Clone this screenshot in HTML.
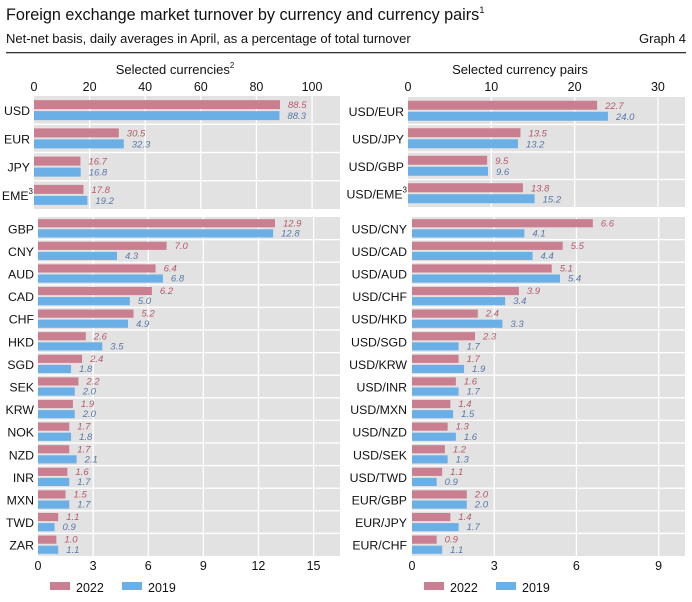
<!DOCTYPE html>
<html><head><meta charset="utf-8"><style>
body{margin:0;background:#fff;}
svg{display:block;font-family:"Liberation Sans",sans-serif;}
</style></head><body>
<svg id="s" width="692" height="602" xmlns="http://www.w3.org/2000/svg"></svg>
<script>
const s=document.getElementById('s');let h='';
const P='#c97f8f',B='#6aafe6',BG='#e2e2e2';
h+=`<text x="6" y="20" font-size="16.2" fill="#111">Foreign exchange market turnover by currency and currency pairs<tspan font-size="9.5" dy="-7">1</tspan></text>`;
h+=`<text x="6" y="43" font-size="13" fill="#111">Net-net basis, daily averages in April, as a percentage of total turnover</text>`;
h+=`<text x="686" y="43" font-size="13" fill="#111" text-anchor="end">Graph 4</text>`;
h+=`<rect x="6" y="52" width="680" height="1.3" fill="#333"/>`;
h+=`<text x="175" y="74" font-size="13" text-anchor="middle" fill="#111">Selected currencies<tspan font-size="8" dy="-6">2</tspan></text>`;
h+=`<text x="520" y="74" font-size="13" text-anchor="middle" fill="#111">Selected currency pairs</text>`;
function panel(x0,xr,y0,y1,scale,ticks,rows,tickY,lblX){
  const n=rows.length,rh=(y1-y0)/n,left=x0;
  h+=`<rect x="${left}" y="${y0}" width="${xr-left}" height="${y1-y0}" fill="${BG}"/>`;
  ticks.forEach(t=>{const x=x0+t*scale;if(t>0)h+=`<rect x="${x-0.6}" y="${y0}" width="1.3" height="${y1-y0}" fill="#fff"/>`;
    h+=`<text x="${x}" y="${tickY}" font-size="12.5" text-anchor="middle" fill="#111">${t}</text>`;});
  rows.forEach((r,i)=>{const ry=y0+i*rh;if(i>0)h+=`<rect x="${left}" y="${ry-0.7}" width="${xr-left}" height="1.4" fill="#fff"/>`;
    const bh=Math.min(9,rh*0.36),g=(rh-2*bh-2)/2;
    const w1=r[1]*scale,w2=r[2]*scale;
    h+=`<rect x="${x0}" y="${ry+g}" width="${w1}" height="${bh}" fill="${P}"/>`;
    h+=`<rect x="${x0}" y="${ry+g+bh+2}" width="${w2}" height="${bh}" fill="${B}"/>`;
    h+=`<text x="${x0+w1+8}" y="${ry+g+bh-1}" font-size="9.5" font-style="italic" fill="#b55868">${r[1].toFixed(1)}</text>`;
    h+=`<text x="${x0+w2+8}" y="${ry+g+2*bh+1}" font-size="9.5" font-style="italic" fill="#5577aa">${r[2].toFixed(1)}</text>`;
    let lab=r[0],sup='',lx=lblX;if(lab.endsWith('^')){lab=lab.slice(0,-1);sup='<tspan font-size="8" dy="-6">3</tspan>';lx+=3;}
    h+=`<text x="${lx}" y="${ry+rh/2+5}" font-size="12.3" text-anchor="end" fill="#111">${lab}${sup}</text>`;});
}
panel(34,340,96,209,2.78,[0,20,40,60,80,100],[['USD',88.5,88.3],['EUR',30.5,32.3],['JPY',16.7,16.8],['EME^',17.8,19.2]],91,30);
panel(38,340,217,556,18.37,[0,3,6,9,12,15],[['GBP',12.9,12.8],['CNY',7.0,4.3],['AUD',6.4,6.8],['CAD',6.2,5.0],['CHF',5.2,4.9],['HKD',2.6,3.5],['SGD',2.4,1.8],['SEK',2.2,2.0],['KRW',1.9,2.0],['NOK',1.7,1.8],['NZD',1.7,2.1],['INR',1.6,1.7],['MXN',1.5,1.7],['TWD',1.1,0.9],['ZAR',1.0,1.1]],570,34);
panel(408,685,97,207,8.33,[0,10,20,30],[['USD/EUR',22.7,24.0],['USD/JPY',13.5,13.2],['USD/GBP',9.5,9.6],['USD/EME^',13.8,15.2]],91,404);
panel(412,685,217,556,27.4,[0,3,6,9],[['USD/CNY',6.6,4.1],['USD/CAD',5.5,4.4],['USD/AUD',5.1,5.4],['USD/CHF',3.9,3.4],['USD/HKD',2.4,3.3],['USD/SGD',2.3,1.7],['USD/KRW',1.7,1.9],['USD/INR',1.6,1.7],['USD/MXN',1.4,1.5],['USD/NZD',1.3,1.6],['USD/SEK',1.2,1.3],['USD/TWD',1.1,0.9],['EUR/GBP',2.0,2.0],['EUR/JPY',1.4,1.7],['EUR/CHF',0.9,1.1]],570,407);
function leg(x){h+=`<rect x="${x}" y="582" width="20" height="8" fill="${P}"/><text x="${x+26}" y="592" font-size="12.5" fill="#111">2022</text>`;
h+=`<rect x="${x+72}" y="582" width="20" height="8" fill="${B}"/><text x="${x+98}" y="592" font-size="12.5" fill="#111">2019</text>`;}
leg(50);leg(424);
s.innerHTML=h;
</script>
</body></html>
